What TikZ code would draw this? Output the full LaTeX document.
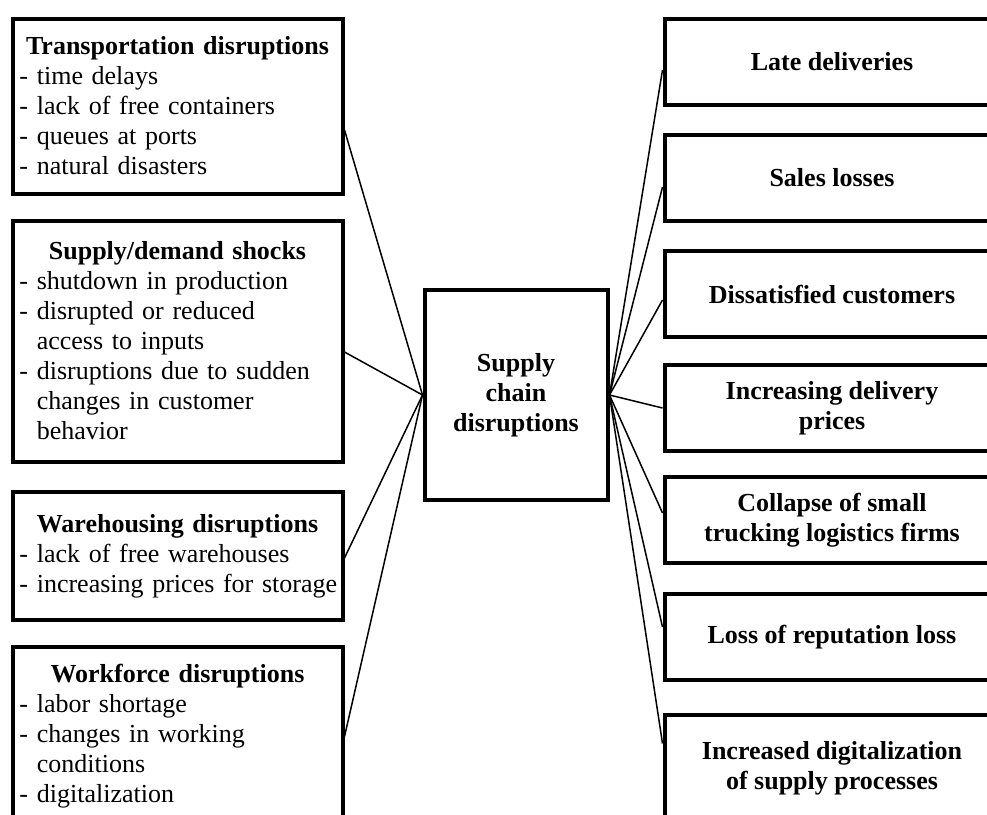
\documentclass[tikz,border=0pt]{standalone}
\usepackage{fontspec}
\setmainfont{Liberation Serif}
\usetikzlibrary{shapes.geometric}
\newcommand{\causehead}[1]{\makebox[\linewidth][c]{\bfseries #1}}
\newcommand{\indentrest}{\phantom{-} }

\begin{document}
\begin{tikzpicture}[x=1pt,y=-1pt]
\tikzstyle{cause} = [rectangle, draw, line width=4pt, fill=white,
text width=316pt, inner xsep=7pt, align=left, font=\fontsize{26pt}{30pt}\selectfont]
\tikzstyle{effect} = [rectangle, draw, line width=4pt, fill=white,
minimum width=335pt, minimum height=86pt, align=center, font=\fontsize{26pt}{30pt}\selectfont\bfseries]
\tikzstyle{hub} = [rectangle, draw, line width=4pt, fill=white,
minimum width=183pt, minimum height=210pt, align=center, font=\fontsize{26pt}{30pt}\selectfont\bfseries]
\tikzstyle{line} = [draw, line width=1.5pt];
\useasboundingbox (0,0) rectangle (987,814);
\clip (0,0) rectangle (987,814);
% centre
\node [hub] (supply) at (516,395) {Supply\\chain\\disruptions};
% left column
\node [cause, minimum height=175pt] (transport) at (177.5,106) {\causehead{Transportation disruptions}\\
- time delays\\
- lack of free containers\\
- queues at ports\\
- natural disasters};
\node [cause, minimum height=241pt] (shocks) at (177.5,341) {\causehead{Supply/demand shocks}\\
- shutdown in production\\
- disrupted or reduced\\
\indentrest access to inputs\\
- disruptions due to sudden\\
\indentrest changes in customer\\
\indentrest behavior};
\node [cause, minimum height=128pt] (warehouse) at (177.5,556) {\causehead{Warehousing disruptions}\\
- lack of free warehouses\\
\mbox{- increasing prices for storage}};
\node [cause, minimum height=180pt, anchor=north] (workforce) at (177.5,644.5) {\causehead{Workforce disruptions}\\
- labor shortage\\
- changes in working\\
\indentrest conditions\\
- digitalization};
% right column
\node [effect] (late) at (832,62) {Late deliveries};
\node [effect] (sales) at (832,178) {Sales losses};
\node [effect] (dissatisfied) at (832,294) {Dissatisfied customers};
\node [effect] (prices) at (832,408) {Increasing delivery\\prices};
\node [effect] (collapse) at (832,520) {Collapse of small\\trucking logistics firms};
\node [effect] (reputation) at (832,637) {Loss of reputation loss};
\node [effect, minimum height=108pt] (digital) at (832,768.5) {Increased digitalization\\of supply processes};
\tikzstyle{every path}=[line]
\path ([yshift=-24pt]transport.east) -- (supply.west);
\path ([yshift=-11pt]shocks.east) -- (supply.west);
\path ([yshift=-2pt]warehouse.east) -- (supply.west);
\path (workforce.east) -- (supply.west);
\path (supply.east) -- ([yshift=-8pt]late.west);
\path (supply.east) -- ([yshift=-9pt]sales.west);
\path (supply.east) -- ([yshift=-6pt]dissatisfied.west);
\path (supply.east) -- (prices.west);
\path (supply.east) -- ([yshift=7pt]collapse.west);
\path (supply.east) -- ([yshift=10pt]reputation.west);
\path (supply.east) -- ([yshift=25pt]digital.west);
\end{tikzpicture}
\end{document}
